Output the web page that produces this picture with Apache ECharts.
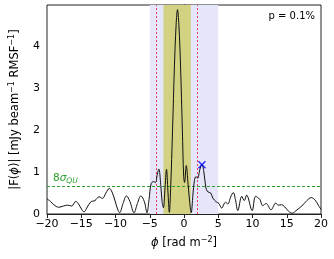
<!DOCTYPE html>
<html>
<head>
<meta charset="utf-8">
<script src="https://cdn.jsdelivr.net/npm/echarts@6/dist/echarts.min.js"></script>
<style>
html,body{margin:0;padding:0;background:#fff;}
#c{width:334px;height:259px;}
</style>
</head>
<body>
<div id="c"></div>
<script>
// Faraday depth (rad m^-2)
const phi = [-20,-19.5,-19.0,-18.3,-17.6,-17.0,-16.4,-15.8,-15.4,-14.9,-14.6,-14.2,-13.6,-13.0,-12.4,-11.9,-11.4,-10.9,-10.5,-10.1,-9.7,-9.4,-8.9,-8.4,-7.9,-7.3,-6.8,-6.3,-5.8,-5.4,-5.1,-4.8,-4.45,-4.15,-3.9,-3.67,-3.4,-3.2,-3.0,-2.8,-2.55,-2.35,-2.14,-1.95,-1.67,-1.4,-1.15,-0.95,-0.75,-0.5,-0.24,-0.05,0.08,0.33,0.6,0.85,1.05,1.3,1.52,1.76,2.0,2.3,2.62,2.9,3.19,3.45,3.9,4.2,4.7,5.1,5.5,6.05,6.4,6.8,7.2,7.5,7.86,8.43,8.8,9.14,9.95,10.45,11.05,11.5,12.0,12.7,13.4,13.76,14.2,14.7,15.3,15.8,16.5,17.2,17.95,18.57,19.14,19.6,20];
// |F(phi)| (mJy beam^-1 RMSF^-1)
const amp = [0.36,0.30,0.22,0.16,0.19,0.21,0.19,0.30,0.24,0.10,0.05,0.14,0.29,0.32,0.41,0.37,0.50,0.61,0.52,0.33,0.12,0.03,0.25,0.43,0.30,0.03,0.25,0.43,0.30,0.03,0.35,0.72,0.77,0.75,0.95,1.07,0.70,0.30,0.15,0.55,1.06,0.55,0.04,0.60,2.0,3.5,4.5,4.86,4.5,3.5,2.0,0.90,0.75,1.15,0.70,0.25,0.03,0.45,0.80,0.89,0.85,1.05,1.19,1.0,0.63,0.53,0.50,0.38,0.29,0.25,0.14,0.28,0.24,0.40,0.51,0.35,0.08,0.42,0.32,0.45,0.08,0.42,0.35,0.20,0.25,0.10,0.26,0.21,0.22,0.17,0.06,0.02,0.10,0.19,0.32,0.39,0.33,0.21,0.11];
const outerBand = [-5, 5];
const innerBand = [-3, 1];
const redLines = [-4, 2];
const threshold = 0.65;
const peakMarker = [2.62, 1.17];
const xRange = [-20, 20];
const yRange = [0, 4.97];
const pText = 'p = 0.1%';

const FONT = 'DejaVu Sans';
const chart = echarts.init(document.getElementById('c'), null, {renderer:'canvas'});
const curve = phi.map((p,i)=>[p, amp[i]]);

chart.setOption({
  animation:false,
  backgroundColor:'#fff',
  grid:{left:41, right:13, top:5, bottom:45, show:true, borderColor:'#222', borderWidth:1},
  xAxis:{
    type:'value', min:xRange[0], max:xRange[1], interval:5,
    axisLine:{show:true, onZero:false, lineStyle:{color:'#222', width:1}},
    axisTick:{show:true, inside:false, length:4, lineStyle:{color:'#222'}},
    splitLine:{show:false},
    axisLabel:{fontFamily:FONT, fontSize:11, color:'#000', margin:5,
      formatter:v=>String(v).replace('-','\u2212')},
    name:'{i|ϕ} [rad m{s|\u22122}]', nameLocation:'middle', nameGap:22,
    nameTextStyle:{fontFamily:FONT, fontSize:11.5, color:'#000',
      rich:{i:{fontFamily:FONT, fontSize:11.5, fontStyle:'italic'}, s:{fontFamily:FONT, fontSize:8, verticalAlign:'top', padding:[0,0,6,0]}}}
  },
  yAxis:{
    type:'value', min:yRange[0], max:yRange[1], interval:1,
    axisLine:{show:true, lineStyle:{color:'#222', width:1}},
    axisTick:{show:true, inside:false, length:4, lineStyle:{color:'#222'}},
    splitLine:{show:false},
    axisLabel:{fontFamily:FONT, fontSize:11, color:'#000', margin:7, showMaxLabel:false},
    name:'|F({i|ϕ})| [mJy beam{s|\u22121} RMSF{s|\u22121}]', nameLocation:'middle', nameGap:25,
    nameTextStyle:{fontFamily:FONT, fontSize:11.5, color:'#000',
      rich:{i:{fontFamily:FONT, fontSize:11.5, fontStyle:'italic'}, s:{fontFamily:FONT, fontSize:8, padding:[0,0,6,0]}}}
  },
  series:[
    {
      type:'line', data:[], silent:true, z:1,
      markArea:{silent:true, itemStyle:{color:'#e6e6fb'}, data:[[{xAxis:outerBand[0]},{xAxis:outerBand[1]}]]}
    },
    {
      type:'line', data:[], silent:true, z:2,
      markArea:{silent:true, itemStyle:{color:'#d3d283'}, data:[[{xAxis:innerBand[0]},{xAxis:innerBand[1]}]]}
    },
    {
      type:'line', data:[], silent:true, z:3, color:'#f03c5a',
      markLine:{silent:true, symbol:'none', label:{show:false},
        lineStyle:{color:'#f03c5a', type:[2,2], width:1, opacity:1},
        data:redLines.map(v=>({xAxis:v, lineStyle:{color:'#f03c5a'}}))}
    },
    {
      type:'line', data:[], silent:true, z:3,
      markLine:{silent:true, symbol:'none',
        lineStyle:{color:'#2ca02c', type:[3,2], width:1},
        label:{show:true, position:'insideStartTop', distance:[6,2], formatter:'{n|8}{g|σ}{q|QU}',
          rich:{n:{fontFamily:FONT, fontSize:10.5, color:'#2ca02c'}, g:{fontFamily:FONT, fontSize:10.5, fontStyle:'italic', color:'#2ca02c'}, q:{fontFamily:FONT, fontSize:7.5, fontStyle:'italic', color:'#2ca02c', padding:[5,0,0,0]}}},
        data:[{yAxis:threshold}]}
    },
    {
      type:'line', data:curve, z:5, smooth:0.35, symbol:'none',
      lineStyle:{color:'#111', width:1}
    },
    {
      type:'scatter', data:[peakMarker], z:6,
      symbol:'path://M0,0L10,10M10,0L0,10', symbolSize:7,
      itemStyle:{color:'rgba(0,0,0,0)', borderColor:'#0000ff', borderWidth:1.5}
    }
  ],
  graphic:[{type:'text', right:19, top:11, style:{text:pText, fontFamily:FONT, fontSize:10, fill:'#000'}}]
});
</script>
</body>
</html>
